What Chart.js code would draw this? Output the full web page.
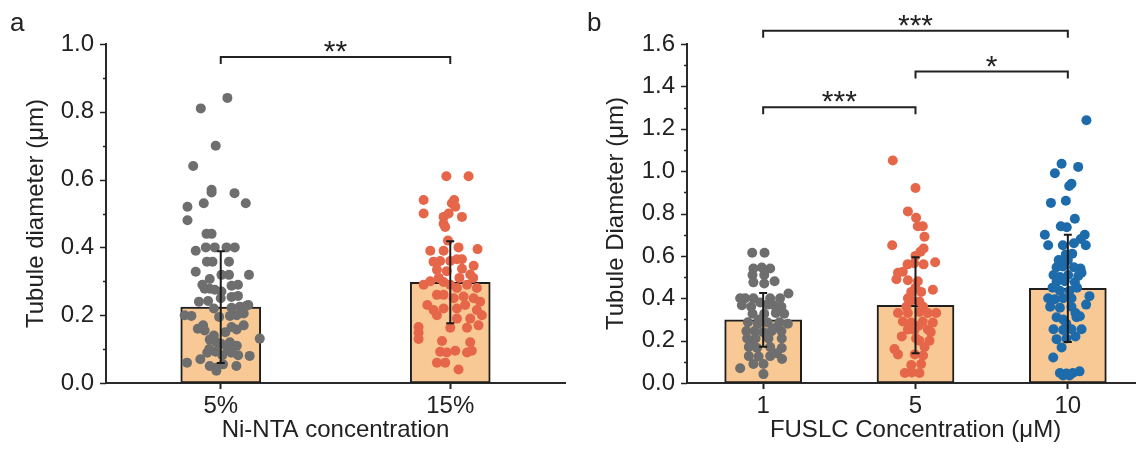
<!DOCTYPE html>
<html>
<head>
<meta charset="utf-8">
<script src="https://cdn.jsdelivr.net/npm/chart.js@4"></script>
<style>
  html, body { margin:0; padding:0; background:#fff; overflow:hidden; }
  body { width:1136px; height:449px; position:relative; }
  .panel { position:absolute; top:0; width:570px; height:449px; }
  #wrapA { left:0; }
  #wrapB { left:580px; }
</style>
</head>
<body>
<div class="panel" id="wrapA"><canvas id="chartA" width="570" height="449"></canvas></div>
<div class="panel" id="wrapB"><canvas id="chartB" width="570" height="449"></canvas></div>
<script>
// ── panel a: Ni-NTA concentration ──
const catsA = ['5%', '15%'];
const meanA = [0.224, 0.297];
const sdA   = [0.165, 0.121];
// each point: [x offset from its category, diameter µm]
const ptsA5 = [
  [0.029,0.841],[-0.087,0.81],[-0.022,0.70],[-0.12,0.64],[-0.04,0.57],[-0.04,0.562],[0.06,0.56],
  [-0.145,0.52],[-0.074,0.53],[0.109,0.53],[-0.145,0.48],[-0.062,0.44],[-0.04,0.44],[-0.109,0.39],
  [-0.065,0.40],[-0.026,0.40],[0.025,0.40],[0.061,0.40],[-0.06,0.358],[-0.036,0.358],[0.036,0.358],
  [-0.109,0.328],[-0.048,0.307],[0.003,0.319],[0.036,0.319],[0.123,0.319],[-0.07,0.278],[-0.048,0.278],
  [-0.026,0.275],[0.003,0.27],[0.047,0.287],[0.075,0.29],[0.047,0.254],[0.075,0.257],[-0.095,0.24],
  [-0.055,0.242],[-0.157,0.20],[-0.128,0.198],[-0.007,0.195],[0.047,0.222],[0.083,0.225],[0.112,0.228],
  [0.04,0.198],[0.07,0.20],[0.1,0.205],[-0.077,0.17],[-0.07,0.155],[0.047,0.165],[0.069,0.158],
  [0.17,0.131],[-0.048,0.128],[-0.019,0.12],[0.003,0.115],[0.04,0.12],[0.07,0.11],[-0.059,0.089],
  [-0.022,0.092],[0.007,0.082],[0.047,0.089],[0.076,0.082],[0.126,0.08],[-0.147,0.06],[-0.089,0.07],
  [-0.048,0.05],[-0.019,0.045],[0.01,0.055],[0.068,0.05],[-0.019,0.036],[-0.03,0.14],[0.02,0.15],
  [-0.05,0.10],[0.03,0.10],[0.1,0.17],[-0.1,0.16],[0.0,0.25],[-0.03,0.22],[0.12,0.23],[-0.08,0.29]
];
const ptsA15 = [
  [-0.017,0.61],[0.08,0.61],[-0.116,0.54],[0.007,0.53],[0.017,0.54],[-0.116,0.50],[-0.029,0.49],
  [-0.007,0.50],[0.022,0.52],[0.051,0.49],[-0.029,0.47],[-0.022,0.46],[-0.087,0.39],[-0.029,0.39],
  [0.036,0.40],[0.119,0.395],[-0.073,0.358],[-0.044,0.36],[0.029,0.365],[0.051,0.365],[0.102,0.346],
  [-0.058,0.334],[-0.015,0.33],[0.051,0.337],[0.087,0.32],[-0.116,0.29],[-0.087,0.30],[-0.029,0.298],
  [0.0,0.29],[0.029,0.28],[0.073,0.29],[0.116,0.28],[-0.058,0.26],[-0.029,0.26],[0.015,0.25],
  [0.058,0.255],[0.102,0.25],[-0.073,0.215],[-0.029,0.22],[0.029,0.22],[0.065,0.23],[0.116,0.215],
  [-0.058,0.20],[0.029,0.19],[0.087,0.19],[0.138,0.20],[-0.138,0.165],[-0.138,0.148],[-0.138,0.13],
  [0.0,0.163],[0.073,0.163],[0.123,0.17],[-0.036,0.124],[0.087,0.12],[-0.044,0.092],[-0.015,0.09],
  [0.022,0.095],[0.073,0.09],[0.094,0.095],[-0.058,0.06],[-0.022,0.06],[0.036,0.04],[0.0,0.36],
  [-0.01,0.42],[0.04,0.31],[-0.05,0.31],[0.1,0.31],[0.13,0.24],[-0.1,0.23]
];
const sigA = [{ from: 0, to: 1, y: 0.962, text: '**' }];

// ── panel b: FUSLC concentration ──
const catsB = ['1', '5', '10'];
const meanB = [0.298, 0.367, 0.447];
const sdB   = [0.127, 0.226, 0.253];
const ptsB1 = [
  [-0.072,0.615],[0.009,0.615],[-0.064,0.54],[-0.009,0.545],[0.046,0.54],[-0.07,0.51],[0.007,0.51],
  [-0.064,0.475],[0.007,0.47],[0.075,0.48],[0.166,0.422],[-0.151,0.40],[-0.118,0.40],[-0.064,0.40],
  [0.046,0.40],[0.111,0.40],[-0.14,0.367],[-0.079,0.36],[0.07,0.367],[0.12,0.36],[-0.07,0.327],
  [0.007,0.327],[0.083,0.33],[0.138,0.327],[-0.1,0.287],[-0.035,0.28],[0.03,0.285],[0.107,0.287],
  [0.162,0.28],[-0.11,0.245],[-0.055,0.245],[0.0,0.24],[0.055,0.245],[0.12,0.245],[-0.105,0.21],
  [-0.05,0.21],[0.035,0.21],[0.122,0.21],[-0.094,0.17],[-0.04,0.165],[0.046,0.17],[0.122,0.165],
  [-0.094,0.127],[-0.03,0.125],[0.046,0.127],[0.124,0.113],[-0.151,0.07],[-0.064,0.09],[0.002,0.09],
  [0.002,0.042],[-0.02,0.38],[0.03,0.37],[-0.03,0.30],[0.08,0.26],[-0.08,0.19],[0.09,0.14]
];
const ptsB5 = [
  [-0.149,1.05],[0.0,0.92],[-0.05,0.81],[0.004,0.78],[0.015,0.74],[0.048,0.74],[0.059,0.69],
  [-0.153,0.65],[0.053,0.635],[0.033,0.62],[0.0,0.60],[-0.052,0.56],[-0.009,0.565],[0.053,0.56],
  [0.129,0.57],[-0.115,0.52],[-0.083,0.525],[-0.125,0.49],[-0.05,0.485],[0.015,0.48],[0.114,0.44],
  [-0.028,0.43],[0.037,0.43],[-0.05,0.40],[-0.028,0.39],[0.026,0.385],[-0.115,0.33],[-0.05,0.33],
  [0.026,0.335],[0.081,0.33],[0.136,0.33],[-0.083,0.29],[-0.028,0.285],[0.048,0.29],[0.114,0.285],
  [-0.05,0.253],[-0.007,0.25],[0.081,0.253],[-0.138,0.16],[-0.115,0.135],[0.026,0.2],[0.092,0.2],
  [0.004,0.21],[-0.005,0.135],[0.05,0.13],[-0.028,0.085],[0.037,0.09],[-0.07,0.047],[-0.024,0.05],
  [0.026,0.047],[0.0,0.45],[-0.06,0.36],[0.05,0.36],[0.02,0.27],[-0.09,0.22],[0.06,0.17],[0.1,0.24]
];
const ptsB10 = [
  [0.122,1.24],[-0.041,1.035],[0.068,1.02],[-0.085,0.99],[0.024,0.94],[0.009,0.93],[-0.111,0.85],
  [-0.013,0.86],[0.046,0.775],[-0.046,0.74],[-0.007,0.735],[-0.151,0.70],[0.111,0.70],[-0.129,0.65],
  [0.118,0.65],[0.085,0.68],[-0.033,0.65],[0.04,0.66],[-0.013,0.607],[0.029,0.61],[-0.074,0.546],
  [-0.033,0.55],[0.04,0.546],[0.083,0.54],[-0.094,0.51],[-0.052,0.50],[0.002,0.51],[0.068,0.505],
  [0.09,0.52],[-0.074,0.478],[-0.02,0.48],[0.046,0.475],[-0.052,0.435],[0.011,0.435],[-0.129,0.40],
  [-0.085,0.395],[-0.031,0.40],[0.024,0.40],[0.142,0.41],[0.12,0.37],[-0.116,0.36],[-0.052,0.355],
  [0.024,0.36],[-0.074,0.31],[-0.031,0.30],[0.057,0.31],[0.079,0.315],[-0.094,0.254],[-0.031,0.25],
  [0.024,0.254],[0.09,0.254],[-0.074,0.207],[-0.009,0.21],[-0.041,0.168],[-0.096,0.12],[-0.052,0.047],
  [-0.009,0.045],[0.033,0.047],[0.077,0.055],[-0.031,0.035],[0.011,0.035],[0.0,0.58],[-0.06,0.58],
  [0.06,0.45],[-0.1,0.45],[0.05,0.33],[-0.01,0.28],[0.05,0.22]
];
const sigB = [
  { from: 0, to: 2, y: 1.663, text: '***' },
  { from: 1, to: 2, y: 1.470, text: '*' },
  { from: 0, to: 1, y: 1.302, text: '***' }
];

const GRAY = '#6e6e6e', ORANGE = '#e6664a', BLUE = '#1d6baa';
const BAR_FILL = '#f8c994', INK = '#222';
Chart.defaults.font.family = "'Liberation Sans', Arial, sans-serif";
Chart.defaults.color = INK;

// error bars, y minor ticks, brackets + stars, panel letter
const decor = {
  id: 'decor',
  afterDatasetsDraw(chart) {
    const o = chart.options.plugins.decor;
    const xs = chart.scales.x, ys = chart.scales.y, ctx = chart.ctx;
    ctx.save();
    ctx.strokeStyle = '#1a1a1a'; ctx.lineWidth = 2;
    o.mean.forEach((m, i) => {
      const x = xs.getPixelForValue(i + 1);
      const y1 = ys.getPixelForValue(m + o.sd[i]), y2 = ys.getPixelForValue(m - o.sd[i]);
      ctx.beginPath();
      ctx.moveTo(x, y1); ctx.lineTo(x, y2);
      ctx.moveTo(x - 4, y1); ctx.lineTo(x + 4, y1);
      ctx.moveTo(x - 4, y2); ctx.lineTo(x + 4, y2);
      ctx.stroke();
    });
    ctx.restore();
  },
  afterDraw(chart) {
    const o = chart.options.plugins.decor;
    const xs = chart.scales.x, ys = chart.scales.y, ctx = chart.ctx;
    ctx.save();
    // y ticks: long at labelled values, short between
    ctx.strokeStyle = INK; ctx.lineWidth = 1.5;
    const ax = chart.chartArea.left;
    ys.ticks.forEach(t => {
      const y = Math.round(ys.getPixelForValue(t.value)) + 0.5;
      const len = Math.round(t.value * 10) % 2 === 0 ? 6 : 3;
      ctx.beginPath(); ctx.moveTo(ax - len, y); ctx.lineTo(ax, y); ctx.stroke();
    });
    // significance brackets
    ctx.lineWidth = 2; ctx.strokeStyle = INK; ctx.fillStyle = INK;
    ctx.font = "30px 'Liberation Sans', Arial, sans-serif";
    ctx.textAlign = 'center'; ctx.textBaseline = 'alphabetic';
    o.sig.forEach(s => {
      const x1 = xs.getPixelForValue(s.from + 1), x2 = xs.getPixelForValue(s.to + 1);
      const y = ys.getPixelForValue(s.y);
      ctx.beginPath();
      ctx.moveTo(x1, y + 7); ctx.lineTo(x1, y); ctx.lineTo(x2, y); ctx.lineTo(x2, y + 7);
      ctx.stroke();
      ctx.fillText(s.text, (x1 + x2) / 2, y + 4);
    });
    // panel letter
    ctx.textAlign = 'left';
    ctx.font = "26px 'Liberation Sans', Arial, sans-serif";
    ctx.fillText(o.letter, o.letterX, 31);
    ctx.restore();
  }
};

function scatterSet(pts, cat, color) {
  return {
    type: 'scatter',
    data: pts.map(([dx, v]) => ({ x: cat + dx, y: v })),
    backgroundColor: color,
    borderWidth: 0,
    pointRadius: 5,
    order: 1
  };
}

function makePanel(id, cfg) {
  return new Chart(document.getElementById(id), {
    type: 'bar',
    data: {
      datasets: [
        ...cfg.groups.map((g, i) => scatterSet(g.pts, i + 1, g.color)),
        {
          type: 'bar',
          data: cfg.mean.map((m, i) => ({ x: i + 1, y: m })),
          backgroundColor: BAR_FILL,
          borderColor: '#1f1f1f',
          borderWidth: 2,
          borderSkipped: false,
          barThickness: cfg.barW,
          order: 3
        }
      ]
    },
    options: {
      responsive: false,
      animation: false,
      layout: { padding: { top: 44, right: cfg.padRight, left: 0, bottom: 0 } },
      plugins: {
        legend: { display: false },
        tooltip: { enabled: false },
        decor: { mean: cfg.mean, sd: cfg.sd, sig: cfg.sig, letter: cfg.letter, letterX: cfg.letterX }
      },
      scales: {
        x: {
          type: 'linear',
          min: 0.5, max: cfg.cats.length + 0.5,
          offset: false,
          afterBuildTicks: s => { s.ticks = cfg.cats.map((c, i) => ({ value: i + 1 })); },
          afterFit: s => { s.height = 66; },
          ticks: {
            callback: (v, i) => cfg.cats[i],
            font: { size: 24 }, color: INK, padding: 3, maxRotation: 0, autoSkip: false
          },
          grid: { display: true, drawOnChartArea: false, drawTicks: true, tickLength: 6,
                  color: INK, tickWidth: 2, offset: false },
          border: { display: true, color: '#2a2a2a', width: 2 },
          title: { display: true, text: cfg.xTitle, font: { size: 24 }, color: INK,
                   padding: { top: 0, bottom: 4 } }
        },
        y: {
          min: 0, max: cfg.yMax,
          afterFit: s => { s.width = cfg.axisX; },
          ticks: {
            stepSize: 0.1, autoSkip: false,
            callback: v => Math.round(v * 10) % 2 === 0 ? v.toFixed(1) : '',
            font: { size: 24 }, color: INK, padding: 6
          },
          grid: { display: false, drawTicks: true, tickLength: 6 },
          border: { display: true, color: '#2a2a2a', width: 2 },
          title: { display: true, text: cfg.yTitle, font: { size: 24 }, color: INK,
                   padding: { top: 22, bottom: 0 } }
        }
      }
    },
    plugins: [decor]
  });
}

makePanel('chartA', {
  cats: catsA, mean: meanA, sd: sdA, sig: sigA,
  groups: [{ pts: ptsA5, color: GRAY }, { pts: ptsA15, color: ORANGE }],
  yMax: 1.0, barW: 80, padRight: 5, axisX: 106,
  xTitle: 'Ni-NTA concentration', yTitle: 'Tubule diameter (μm)',
  letter: 'a', letterX: 10
});

makePanel('chartB', {
  cats: catsB, mean: meanB, sd: sdB, sig: sigB,
  groups: [{ pts: ptsB1, color: GRAY }, { pts: ptsB5, color: ORANGE }, { pts: ptsB10, color: BLUE }],
  yMax: 1.6, barW: 77, padRight: 6, axisX: 107,
  xTitle: 'FUSLC Concentration (μM)', yTitle: 'Tubule Diameter (μm)',
  letter: 'b', letterX: 7
});
</script>
</body>
</html>
